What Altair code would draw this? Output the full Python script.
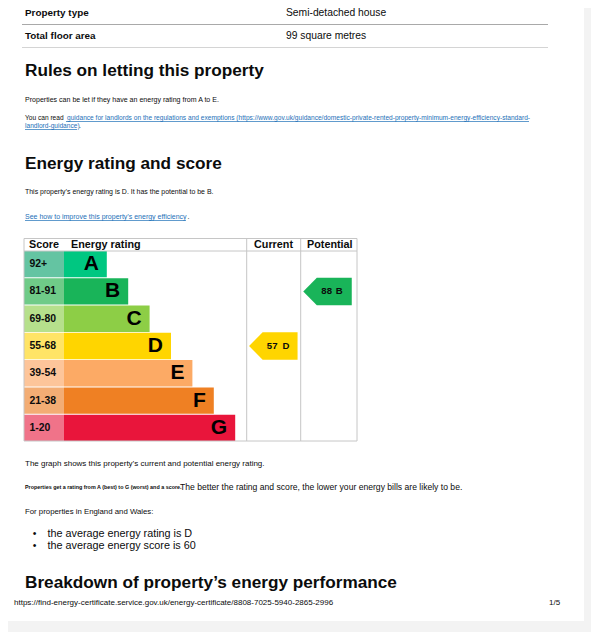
import altair as alt
import pandas as pd

# ---------------- data ----------------
ratings = ["A", "B", "C", "D", "E", "F", "G"]
score_ranges = ["92+", "81-91", "69-80", "55-68", "39-54", "21-38", "1-20"]
bar_units = [2, 3, 4, 5, 6, 7, 8]
bar_colors = ["#00c781", "#19b459", "#8dce46", "#ffd500", "#fcaa65", "#ef8023", "#e9153b"]
band_colors = ["#64c4a2", "#6fcb88", "#b6e08c", "#ffe466", "#fdc59a", "#f3ad74", "#f07389"]

current_rating, current_score = "D", 57
potential_rating, potential_score = "B", 88

FONT = "Liberation Sans"
INK = "#0b0c0c"
LINK = "#1d70b8"
OFF = 8  # page margin
W, H = 583, 624

df = pd.DataFrame({"rating": ratings, "range": score_ranges, "units": bar_units})

one = alt.Data(values=[{"k": 1}])


def txt(s, x, y, size=7.0, bold=False, color=INK, align="left"):
    return alt.Chart(alt.Data(values=[{"t": s}])).mark_text(
        align=align, baseline="middle", font=FONT, fontSize=size,
        fontWeight="bold" if bold else "normal", color=color
    ).encode(x=alt.value(x - OFF), y=alt.value(y - OFF), text="t:N")


def hline(x1, x2, y, color="#c8c8c8", w=1):
    return alt.Chart(one).mark_rule(color=color, strokeWidth=w).encode(
        x=alt.value(x1 - OFF), x2=alt.value(x2 - OFF), y=alt.value(y - OFF))


def vline(x, y1, y2, color="#c8c8c8", w=1):
    return alt.Chart(one).mark_rule(color=color, strokeWidth=w).encode(
        x=alt.value(x - OFF), y=alt.value(y1 - OFF), y2=alt.value(y2 - OFF))


def box(x1, x2, y1, y2, color):
    return alt.Chart(one).mark_rect(color=color).encode(
        x=alt.value(max(x1, OFF) - OFF), x2=alt.value(min(x2, W + OFF) - OFF),
        y=alt.value(max(y1, OFF) - OFF), y2=alt.value(min(y2, H + OFF) - OFF))


# scales for the rating graph
Y0, Y1 = 251, 441
yscale = alt.Scale(domain=ratings, range=[Y0 - OFF, Y1 - OFF], paddingInner=0.035, paddingOuter=0)
BAR_X0 = 64
UNIT = 21.4
xscale = alt.Scale(domain=[0, 8], range=[BAR_X0 - OFF, BAR_X0 - OFF + 8 * UNIT])
Yenc = alt.Y("rating:N", scale=yscale, axis=None)


def bar_color():
    return alt.Color("rating:N", scale=alt.Scale(domain=ratings, range=bar_colors), legend=None)


layers = []

# page background pieces (viewer gutter)
layers.append(box(584, 600, 0, 640, "#f3f3f3"))
layers.append(box(0, 584, 621, 635, "#f3f3f3"))

# property table
layers += [
    txt("Property type", 25, 13, 9.9, True),
    txt("Semi-detached house", 286, 13, 10.3),
    hline(22, 548, 24.5, "#a9a9a9"),
    txt("Total floor area", 25, 36, 9.9, True),
    txt("99 square metres", 286, 36, 10.3),
    hline(22, 548, 47.5, "#d4d4d4"),
]

# rules on letting
layers += [
    txt("Rules on letting this property", 25, 71, 17.2, True),
    txt("Properties can be let if they have an energy rating from A to E.", 25, 100, 7.05),
    txt("You can read", 25, 118, 6.6),
    txt("guidance for landlords on the regulations and exemptions (https://www.gov.uk/guidance/domestic-private-rented-property-minimum-energy-efficiency-standard-",
        67, 118, 6.6, color=LINK),
    hline(66, 529, 121.5, LINK, 0.7),
    txt("landlord-guidance)", 25, 126, 6.6, color=LINK),
    hline(25, 77, 129.5, LINK, 0.7),
    txt(".", 79, 126, 6.6),
]

# energy rating and score
layers += [
    txt("Energy rating and score", 25, 164, 17.2, True),
    txt("This property\u2019s energy rating is D. It has the potential to be B.", 25, 192, 6.96),
    txt("See how to improve this property\u2019s energy efficiency", 25, 217, 7.0, color=LINK),
    hline(25, 186, 220.5, LINK, 0.7),
    txt(".", 187.5, 217, 7.0),
]

# rating graph: score band cells
layers.append(
    alt.Chart(df).mark_rect().encode(
        x=alt.value(24 - OFF), x2=alt.value(BAR_X0 - OFF), y=Yenc,
        color=alt.Color("rating:N", scale=alt.Scale(domain=ratings, range=band_colors), legend=None))
)
# bars
layers.append(
    alt.Chart(df).mark_bar().encode(
        x=alt.X("units:Q", scale=xscale, axis=None), y=Yenc, color=bar_color())
)
# letters
layers.append(
    alt.Chart(df).mark_text(align="right", baseline="middle", dx=-8, font=FONT,
                            fontSize=21, fontWeight="bold", color="#000000").encode(
        x=alt.X("units:Q", scale=xscale, axis=None), y=Yenc, text="rating:N")
)
# score ranges
layers.append(
    alt.Chart(df).mark_text(align="left", baseline="middle", font=FONT,
                            fontSize=10.4, fontWeight="bold", color="#0b0c0c").encode(
        x=alt.value(29.5 - OFF), y=Yenc, text="range:N")
)

# arrows
ARROW = "M -1 0 L -0.44 -0.567 L 1 -0.567 L 1 0.567 L -0.44 0.567 Z"
AW = 48.5


def arrow(rating, score, cx, score_end, letter_mid):
    d = pd.DataFrame({"rating": [rating], "score": [str(score)]})
    shape = alt.Chart(d).mark_point(shape=ARROW, filled=True, size=AW * AW,
                                    opacity=1, strokeWidth=0).encode(
        x=alt.value(cx - OFF), y=Yenc, color=bar_color())
    s = alt.Chart(d).mark_text(align="right", baseline="middle", font=FONT,
                               fontSize=9.6, fontWeight="bold", color="#0b0c0c").encode(
        x=alt.value(score_end - OFF), y=Yenc, text="score:N")
    l = alt.Chart(d).mark_text(align="center", baseline="middle", font=FONT,
                               fontSize=9.6, fontWeight="bold", color="#0b0c0c").encode(
        x=alt.value(letter_mid - OFF), y=Yenc, text="rating:N")
    return [shape, s, l]


layers += arrow(current_rating, current_score, 273.3, 277.5, 286)
layers += arrow(potential_rating, potential_score, 327.5, 332, 339.3)

# grid of the graph
GC = "#c6c6c6"
layers += [
    hline(24, 357, 238.5, GC),
    hline(24, 357, 251, GC),
    hline(24, 357, 441, GC),
    vline(24, 238.5, 441, GC),
    vline(246.7, 238.5, 441, GC),
    vline(300.7, 238.5, 441, GC),
    vline(357, 238.5, 441, GC),
    txt("Score", 29, 245, 10.8, True),
    txt("Energy rating", 71, 245, 10.8, True),
    txt("Current", 254, 245, 10.8, True),
    txt("Potential", 307, 245, 10.8, True),
]

# text after the graph
layers += [
    txt("The graph shows this property\u2019s current and potential energy rating.", 25, 464, 8.0),
    txt("Properties get a rating from A (best) to G (worst) and a score.", 25, 487, 5.4, bold=True),
    txt("The better the rating and score, the lower your energy bills are likely to be.", 180, 487, 8.6),
    txt("For properties in England and Wales:", 25, 512, 7.8),
    txt("\u2022", 34.5, 534, 10.5, align="center"),
    txt("the average energy rating is D", 47.5, 534, 10.8),
    txt("\u2022", 34.5, 546, 10.5, align="center"),
    txt("the average energy score is 60", 47.5, 546, 10.8),
    txt("Breakdown of property\u2019s energy performance", 25, 583, 17.2, True),
    txt("https://find-energy-certificate.service.gov.uk/energy-certificate/8808-7025-5940-2865-2996", 14, 603, 8.0),
    txt("1/5", 549, 603, 8.0),
]

chart = alt.layer(*layers).resolve_scale(color="independent").properties(
    width=W, height=H, padding=0, autosize="none", background="white"
).configure_view(stroke=None)

chart.save("out.html", embed_options={"renderer": "svg", "actions": False})
